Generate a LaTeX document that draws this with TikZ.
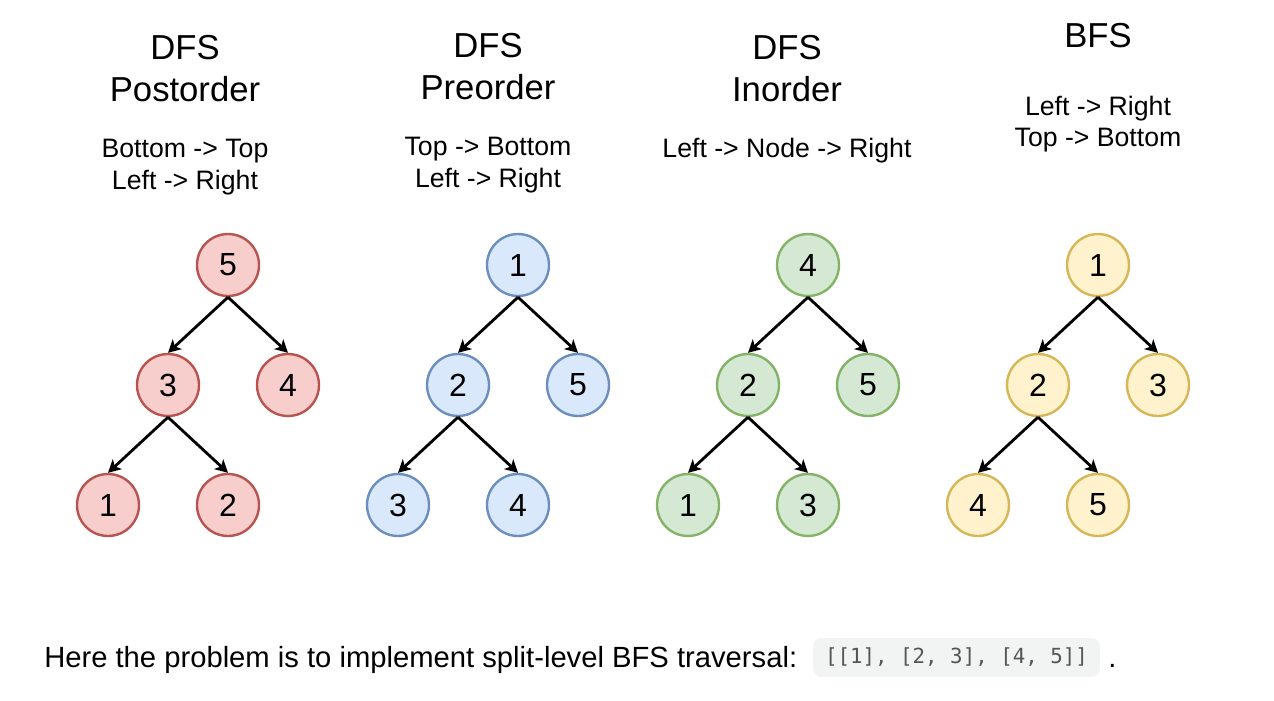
\documentclass[tikz,border=0pt]{standalone}
\usepackage{fontspec}
\setmainfont{Liberation Sans}
\setmonofont{DejaVu Sans Mono}
\usetikzlibrary{arrows.meta, positioning}
\definecolor{cRed}{HTML}{F8CECC}
\definecolor{cRedB}{HTML}{B85450}
\definecolor{cBlu}{HTML}{DAE8FC}
\definecolor{cBluB}{HTML}{6C8EBF}
\definecolor{cGrn}{HTML}{D5E8D4}
\definecolor{cGrnB}{HTML}{82B366}
\definecolor{cYel}{HTML}{FFF2CC}
\definecolor{cYelB}{HTML}{D6B656}
\definecolor{cCode}{HTML}{F2F3F3}
\definecolor{cCodeT}{HTML}{555555}

\begin{document}
\begin{tikzpicture}[
    x=0.75pt, y=-0.75pt,
    nd/.style={circle, minimum size=46.5pt, inner sep=0pt, line width=1.8pt,
               font=\fontsize{24}{28}\selectfont},
    nred/.style={nd, fill=cRed, draw=cRedB},
    nblu/.style={nd, fill=cBlu, draw=cBluB},
    ngrn/.style={nd, fill=cGrn, draw=cGrnB},
    nyel/.style={nd, fill=cYel, draw=cYelB},
    ar/.style={-{Stealth[length=9.5pt,width=10pt,inset=2.5pt]}, line width=2.1pt},
    ttl/.style={align=center, font=\fontsize{26}{32}\selectfont},
    sub/.style={align=center, font=\fontsize{20}{24}\selectfont},
    node distance=90pt and 45pt, on grid,
]
\useasboundingbox (0,0) rectangle (1274,700);

% === DFS POSTORDER ===
\node[ttl] (tPost) at (185,68.5) {DFS\\Postorder};
\node[sub] (sPost) at (185,167) {Bottom -> Top\\Left -> Right};

\node[nred] (p5) at (228,265) {5};
\node[nred, below left=of p5] (p3) {3};
\node[nred, below right=of p5] (p4) {4};
\node[nred, below left=of p3] (p1) {1};
\node[nred, below right=of p3] (p2) {2};

\draw[ar] (p5.south) -- (p3.north);
\draw[ar] (p5.south) -- (p4.north);
\draw[ar] (p3.south) -- (p1.north);
\draw[ar] (p3.south) -- (p2.north);

% === DFS PREORDER ===
\node[ttl] (tPre) at (488,66.5) {DFS\\Preorder};
\node[sub] (sPre) at (488,165.5) {Top -> Bottom\\Left -> Right};

\node[nblu] (q1) at (518,265) {1};
\node[nblu, below left=of q1] (q2) {2};
\node[nblu, below right=of q1] (q5) {5};
\node[nblu, below left=of q2] (q3) {3};
\node[nblu, below right=of q2] (q4) {4};

\draw[ar] (q1.south) -- (q2.north);
\draw[ar] (q1.south) -- (q5.north);
\draw[ar] (q2.south) -- (q3.north);
\draw[ar] (q2.south) -- (q4.north);

% === DFS INORDER ===
\node[ttl] (tIn) at (787,68.5) {DFS\\Inorder};
\node[sub] (sIn) at (787,151) {Left -> Node -> Right};

\node[ngrn] (g4) at (808,265) {4};
\node[ngrn, below left=of g4] (g2) {2};
\node[ngrn, below right=of g4] (g5) {5};
\node[ngrn, below left=of g2] (g1) {1};
\node[ngrn, below right=of g2] (g3) {3};

\draw[ar] (g4.south) -- (g2.north);
\draw[ar] (g4.south) -- (g5.north);
\draw[ar] (g2.south) -- (g1.north);
\draw[ar] (g2.south) -- (g3.north);

% === BFS ===
\node[ttl] (tBfs) at (1098,36) {BFS};
\node[sub, font=\fontsize{20}{23}\selectfont] (sBfs) at (1098,124) {Left -> Right\\Top -> Bottom};

\node[nyel] (b1) at (1098,265) {1};
\node[nyel, below left=of b1] (b2) {2};
\node[nyel, below right=of b1] (b3) {3};
\node[nyel, below left=of b2] (b4) {4};
\node[nyel, below right=of b2] (b5) {5};

\draw[ar] (b1.south) -- (b2.north);
\draw[ar] (b1.south) -- (b3.north);
\draw[ar] (b2.south) -- (b4.north);
\draw[ar] (b2.south) -- (b5.north);

% === NOTE ===
\node[anchor=base west, inner sep=0pt, font=\fontsize{21.9}{26}\selectfont] (note) at (44,667)
    {Here the problem is to implement split-level BFS traversal:};
\node[fill=cCode, rounded corners=6pt, minimum width=215pt, minimum height=29pt,
      inner sep=0pt, text=cCodeT, font=\ttfamily\fontsize{15.6}{18}\selectfont] (code) at (956.5,657.5)
    {[[1], [2, 3], [4, 5]]};
\node[anchor=base west, inner sep=0pt, font=\fontsize{21.9}{26}\selectfont] (dot) at (1108,667) {.};

\end{tikzpicture}
\end{document}
